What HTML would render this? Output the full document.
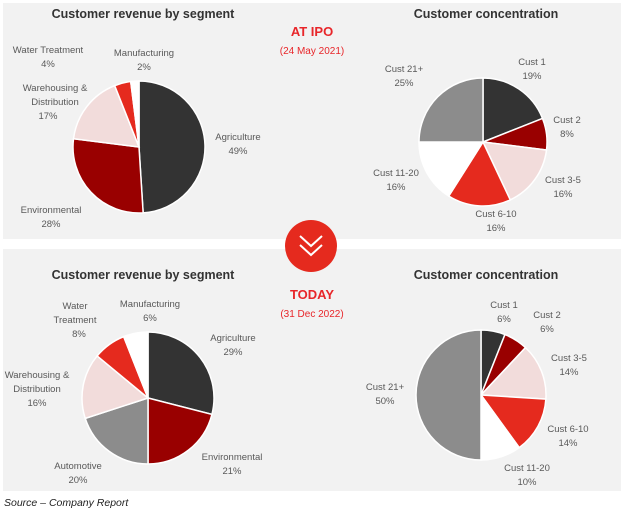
<!DOCTYPE html>
<html><head><meta charset="utf-8"><style>
body{margin:0;width:625px;height:513px;background:#fff;font-family:"Liberation Sans",sans-serif;overflow:hidden}
</style></head><body>
<svg id="s" width="625" height="513" xmlns="http://www.w3.org/2000/svg" font-family="Liberation Sans, sans-serif">
<rect x="3" y="3" width="618" height="236" fill="#f2f2f2"/>
<rect x="3" y="249" width="618" height="242" fill="#f2f2f2"/>
<g font-weight="bold" font-size="12.5" fill="#333" text-anchor="middle">
<text x="143" y="18">Customer revenue by segment</text>
<text x="486" y="18">Customer concentration</text>
<text x="143" y="279">Customer revenue by segment</text>
<text x="486" y="279">Customer concentration</text>
</g>
<g text-anchor="middle" fill="#e8262a">
<text x="312" y="36" font-weight="bold" font-size="13">AT IPO</text>
<text x="312" y="54" font-size="10">(24 May 2021)</text>
<text x="312" y="299" font-weight="bold" font-size="13">TODAY</text>
<text x="312" y="317" font-size="10">(31 Dec 2022)</text>
</g>
<g id="pies"></g>
<circle cx="311" cy="246" r="26" fill="#e52a1e"/>
<path d="M300 236 L311 246 L322 236 M300 245 L311 255 L322 245" stroke="#fff" stroke-width="2" fill="none"/>
<g font-size="9.5" fill="#595959" text-anchor="middle">
<text x="48" y="53">Water Treatment</text><text x="48" y="67">4%</text>
<text x="144" y="56">Manufacturing</text><text x="144" y="70">2%</text>
<text x="55" y="91">Warehousing &amp;</text><text x="55" y="105">Distribution</text><text x="48" y="119">17%</text>
<text x="238" y="140">Agriculture</text><text x="238" y="154">49%</text>
<text x="51" y="213">Environmental</text><text x="51" y="227">28%</text>
<text x="404" y="72">Cust 21+</text><text x="404" y="86">25%</text>
<text x="532" y="65">Cust 1</text><text x="532" y="79">19%</text>
<text x="567" y="123">Cust 2</text><text x="567" y="137">8%</text>
<text x="563" y="183">Cust 3-5</text><text x="563" y="197">16%</text>
<text x="496" y="217">Cust 6-10</text><text x="496" y="231">16%</text>
<text x="396" y="176">Cust 11-20</text><text x="396" y="190">16%</text>
<text x="75" y="309">Water</text><text x="75" y="323">Treatment</text><text x="79" y="337">8%</text>
<text x="150" y="307">Manufacturing</text><text x="150" y="321">6%</text>
<text x="233" y="341">Agriculture</text><text x="233" y="355">29%</text>
<text x="37" y="378">Warehousing &amp;</text><text x="37" y="392">Distribution</text><text x="37" y="406">16%</text>
<text x="78" y="469">Automotive</text><text x="78" y="483">20%</text>
<text x="232" y="460">Environmental</text><text x="232" y="474">21%</text>
<text x="504" y="308">Cust 1</text><text x="504" y="322">6%</text>
<text x="547" y="318">Cust 2</text><text x="547" y="332">6%</text>
<text x="569" y="361">Cust 3-5</text><text x="569" y="375">14%</text>
<text x="568" y="432">Cust 6-10</text><text x="568" y="446">14%</text>
<text x="527" y="471">Cust 11-20</text><text x="527" y="485">10%</text>
<text x="385" y="390">Cust 21+</text><text x="385" y="404">50%</text>
</g>
<text x="4" y="506" font-size="10.5" font-style="italic" fill="#222">Source – Company Report</text>
</svg>
<script>
var D='#333333',R='#990000',P='#f2dcdb',E='#e52a1e',W='#ffffff',G='#8c8c8c';
var pies=[
[139,147,66,[[49,D],[28,R],[17,P],[4,E],[2,W]]],
[483,142,64,[[19,D],[8,R],[16,P],[16,E],[16,W],[25,G]]],
[148,398,66,[[29,D],[21,R],[20,G],[16,P],[8,E],[6,W]]],
[481,395,65,[[6,D],[6,R],[14,P],[14,E],[10,W],[50,G]]]];
var h='';
pies.forEach(function(p){var cx=p[0],cy=p[1],r=p[2],a=0;var tot=p[3].reduce(function(s,x){return s+x[0]},0);
p[3].forEach(function(sl){var a0=a/tot*2*Math.PI,a1=(a+sl[0])/tot*2*Math.PI;a+=sl[0];
var x0=cx+r*Math.sin(a0),y0=cy-r*Math.cos(a0),x1=cx+r*Math.sin(a1),y1=cy-r*Math.cos(a1);
var lg=(a1-a0)>Math.PI?1:0;
h+='<path d="M'+cx+' '+cy+' L'+x0.toFixed(2)+' '+y0.toFixed(2)+' A'+r+' '+r+' 0 '+lg+' 1 '+x1.toFixed(2)+' '+y1.toFixed(2)+' Z" fill="'+sl[1]+'" stroke="#fff" stroke-width="1.5"/>';});});
document.getElementById('pies').innerHTML=h;
</script>
</body></html>
